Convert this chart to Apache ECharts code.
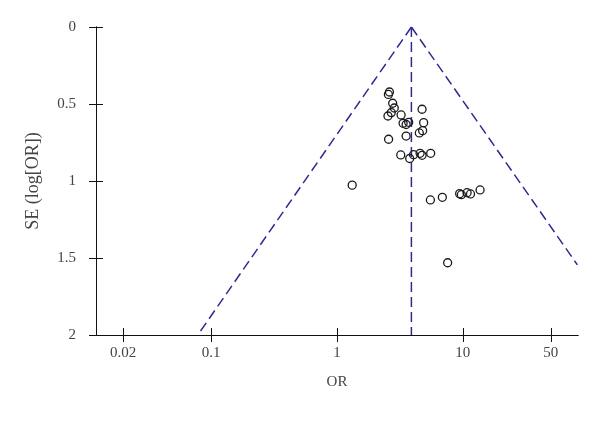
<!DOCTYPE html>
<html>
<head>
<meta charset="utf-8">
<script src="https://cdn.jsdelivr.net/npm/echarts@6/dist/echarts.min.js"></script>
<style>html,body{margin:0;padding:0;background:#fff}#c{width:600px;height:421px}</style>
</head>
<body>
<div id="c"></div>
<script>
// Study odds ratios and standard errors
const orValues = [2.61, 2.56, 2.77, 2.85, 2.70, 2.54, 3.23, 4.74, 3.35, 3.71, 3.54, 4.88, 4.79, 4.51, 3.54, 2.57,
                  3.21, 3.78, 4.06, 4.57, 4.74, 5.55, 1.32, 5.52, 6.87, 9.43, 9.73, 10.8, 11.5, 13.7, 7.57];
const seValues = [0.422, 0.438, 0.495, 0.526, 0.556, 0.578, 0.571, 0.534, 0.625, 0.619, 0.633, 0.621, 0.673, 0.688, 0.708, 0.729,
                  0.831, 0.854, 0.829, 0.820, 0.833, 0.820, 1.027, 1.123, 1.106, 1.082, 1.089, 1.076, 1.084, 1.058, 1.531];
// Pooled estimate and funnel end points
const funnelLeftOR = [3.9, 0.0783];
const funnelLeftSE = [0, 2];
const funnelRightOR = [3.9, 81.3];
const funnelRightSE = [0, 1.545];
const centerOR = [3.9, 3.9];
const centerSE = [0, 2];
const xTicks = [0.02, 0.1, 1, 10, 50];
const yTicks = [0, 0.5, 1, 1.5, 2];
const xMin = 0.01216, xMax = 82.2;

const font = 'Liberation Serif';
const pts = orValues.map((v, i) => [v, seValues[i]]);
const zip = (a, b) => a.map((v, i) => [v, b[i]]);

const dashColor = '#2f2a8e';
const dashStyle = { color: dashColor, width: 1.5, type: [10, 5] };

function xAxisCfg(grid, inside, showLabel) {
  return {
    type: 'log', logBase: 10, min: xMin, max: xMax, position: 'bottom', gridIndex: grid,
    name: showLabel ? 'OR' : '', nameLocation: 'middle', nameGap: 40,
    nameTextStyle: { fontFamily: font, fontSize: 15, color: '#444' },
    axisLine: { show: true, onZero: false, lineStyle: { color: '#111', width: 1 } },
    axisTick: { show: true, inside: inside, length: 7, customValues: xTicks, lineStyle: { color: '#111', width: 1 } },
    axisLabel: { show: showLabel, customValues: xTicks, margin: 11, fontFamily: font, fontSize: 15, color: '#444',
                 formatter: v => String(+(+v).toPrecision(6)) },
    splitLine: { show: false }, minorTick: { show: false }
  };
}
function yAxisCfg(grid, inside, showLabel) {
  return {
    type: 'value', inverse: true, min: 0, max: 2, interval: 0.5, position: 'left', gridIndex: grid,
    name: showLabel ? 'SE (log[OR])' : '', nameLocation: 'middle', nameGap: 54, nameRotate: 90,
    nameTextStyle: { fontFamily: font, fontSize: 18, color: '#444' },
    axisLine: { show: true, onZero: false, lineStyle: { color: '#111', width: 1 } },
    axisTick: { show: true, inside: inside, length: 7, lineStyle: { color: '#111', width: 1 } },
    axisLabel: { show: showLabel, margin: 20, fontFamily: font, fontSize: 15, color: '#444' },
    splitLine: { show: false }
  };
}

const gridBox = { left: 96, right: 22, top: 27, bottom: 86, containLabel: false };
const chart = echarts.init(document.getElementById('c'), null, { renderer: 'canvas' });
chart.setOption({
  animation: false,
  backgroundColor: '#fff',
  grid: [Object.assign({}, gridBox), Object.assign({}, gridBox)],
  xAxis: [xAxisCfg(0, false, true), xAxisCfg(1, true, false)],
  yAxis: [yAxisCfg(0, false, true), yAxisCfg(1, true, false)],
  series: [
    { type: 'line', xAxisIndex: 0, yAxisIndex: 0, data: zip(funnelLeftOR, funnelLeftSE), showSymbol: false, symbol: 'none', lineStyle: dashStyle, clip: true, z: 1 },
    { type: 'line', xAxisIndex: 0, yAxisIndex: 0, data: zip(funnelRightOR, funnelRightSE), showSymbol: false, symbol: 'none', lineStyle: dashStyle, clip: true, z: 1 },
    { type: 'line', xAxisIndex: 0, yAxisIndex: 0, data: zip(centerOR, centerSE), showSymbol: false, symbol: 'none', lineStyle: dashStyle, clip: true, z: 1 },
    { type: 'scatter', xAxisIndex: 0, yAxisIndex: 0, data: pts, symbol: 'circle', symbolSize: 8,
      itemStyle: { color: 'rgba(255,255,255,0)', borderColor: '#1a1a1a', borderWidth: 1.3, opacity: 1 }, z: 3 },
    { type: 'scatter', xAxisIndex: 1, yAxisIndex: 1, data: [], silent: true }
  ]
});
</script>
</body>
</html>
